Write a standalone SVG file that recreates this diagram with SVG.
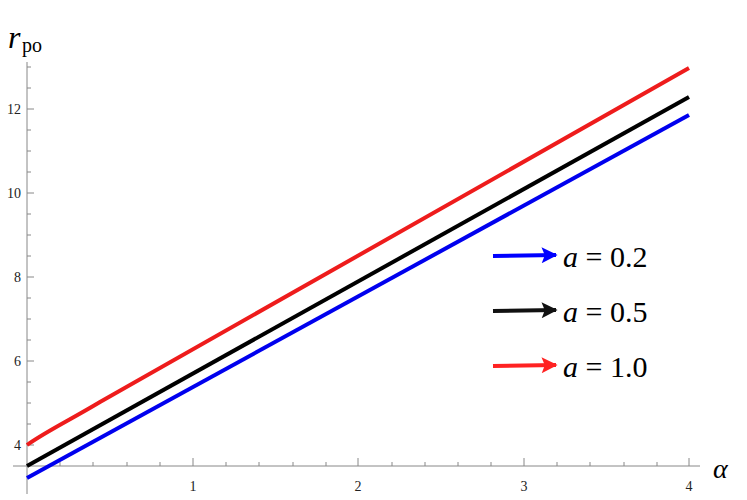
<svg xmlns="http://www.w3.org/2000/svg" width="747" height="500" viewBox="0 0 747 500">
<style>
.ax{stroke:#888;stroke-width:1;fill:none}
.tk{font-family:"Liberation Serif",serif;font-size:14px;fill:#222}
.c{fill:none;stroke-width:4;stroke-linecap:butt}
.lg{font-family:"Liberation Serif",serif;font-size:30px;fill:#000}
</style>
<defs>
<marker id="ab" viewBox="0 0 10 10" refX="9" refY="5" markerWidth="5" markerHeight="4" orient="auto" markerUnits="strokeWidth"><path d="M0,0L10,5L0,10L2,5z" fill="blue"/></marker>
<marker id="ak" viewBox="0 0 10 10" refX="9" refY="5" markerWidth="5" markerHeight="4" orient="auto" markerUnits="strokeWidth"><path d="M0,0L10,5L0,10L2,5z" fill="#111"/></marker>
<marker id="ar" viewBox="0 0 10 10" refX="9" refY="5" markerWidth="5" markerHeight="4" orient="auto" markerUnits="strokeWidth"><path d="M0,0L10,5L0,10L2,5z" fill="#f22"/></marker>
</defs>
<g id="axes">
<path class="ax" d="M13,466H700M27,62V494"/>
<path class="ax" d="M60,466v-4M93,466v-4M127,466v-4M160,466v-4M226,466v-4M259,466v-4M293,466v-4M326,466v-4M392,466v-4M425,466v-4M458,466v-4M491,466v-4M557,466v-4M590,466v-4M624,466v-4M657,466v-4"/>
<path class="ax" d="M193,466v-8M358,466v-8M524,466v-8M689,466v-8"/>
<path class="ax" d="M27,445h7M27,361h7M27,277h7M27,193h7M27,109h7"/>
<path class="ax" d="M27,424h4M27,403h4M27,382h4M27,340h4M27,319h4M27,298h4M27,256h4M27,235h4M27,214h4M27,172h4M27,151h4M27,130h4M27,88h4M27,67h4"/>
<text class="tk" x="193" y="491" text-anchor="middle">1</text>
<text class="tk" x="358" y="491" text-anchor="middle">2</text>
<text class="tk" x="524" y="491" text-anchor="middle">3</text>
<text class="tk" x="689" y="491" text-anchor="middle">4</text>
<text class="tk" x="21" y="450" text-anchor="end">4</text>
<text class="tk" x="21" y="366" text-anchor="end">6</text>
<text class="tk" x="21" y="282" text-anchor="end">8</text>
<text class="tk" x="21" y="198" text-anchor="end">10</text>
<text class="tk" x="21" y="114" text-anchor="end">12</text>
<text x="8" y="48" font-family="Liberation Serif,serif" font-size="32" font-style="italic">r</text>
<text x="22" y="52" font-family="Liberation Serif,serif" font-size="20">po</text>
<text x="713" y="478" font-family="Liberation Serif,serif" font-size="28" font-style="italic">α</text>
</g>
<g id="curves">
<path class="c" stroke="#ee1c1c" d="M27,445C45,432 70,420 100,402L689,68"/>
<path class="c" stroke="#000" d="M27,466L689,97"/>
<path class="c" stroke="#0000ee" d="M27,478L689,115"/>
</g>
<g id="legend">
<line x1="493" y1="256" x2="556" y2="255" stroke="blue" stroke-width="4" marker-end="url(#ab)"/>
<line x1="493" y1="311" x2="556" y2="310" stroke="#111" stroke-width="4" marker-end="url(#ak)"/>
<line x1="493" y1="366" x2="556" y2="365" stroke="#f22" stroke-width="4" marker-end="url(#ar)"/>
<text class="lg" x="563" y="267"><tspan font-style="italic">a</tspan> = 0.2</text>
<text class="lg" x="563" y="322"><tspan font-style="italic">a</tspan> = 0.5</text>
<text class="lg" x="563" y="377"><tspan font-style="italic">a</tspan> = 1.0</text>
</g>
</svg>
